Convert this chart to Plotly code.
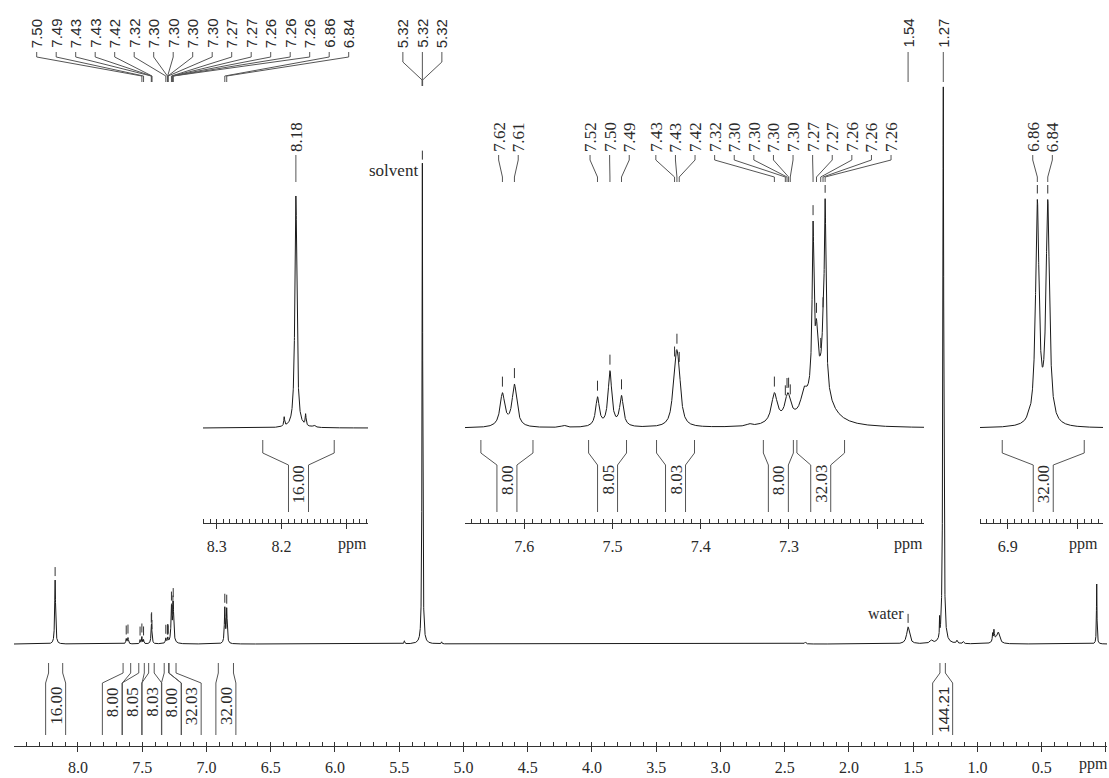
import numpy as np
import plotly.graph_objects as go

W, H = 1109, 778

# ---------------- data ----------------
# main (full-range) spectrum: line positions (ppm), amplitudes, half widths (ppm)
main_ppm = [8.178, 7.6246, 7.611, 7.5169, 7.5028, 7.4897, 7.428, 7.3165, 7.3013, 7.2727, 7.2590, 7.266,
            6.8575, 6.8425, 5.46, 5.320, 5.17, 2.34, 1.54, 1.36, 1.295, 1.266, 1.16, 1.11,
            0.882, 0.872, 0.838, 0.86, 0.072]
main_amp = [64, 5, 6, 4, 7, 4, 20, 5, 5, 31, 35, 7,
            35, 34, 3, 481, 2, 2, 17, 3, 18, 557, 3, 2,
            8, 10, 10, 4, 60]
main_hwhm = [0.004, 0.004, 0.004, 0.003, 0.003, 0.003, 0.004, 0.004, 0.004, 0.004, 0.004, 0.013,
             0.004, 0.004, 0.003, 0.003, 0.003, 0.006, 0.013, 0.012, 0.0015, 0.004, 0.005, 0.005,
             0.003, 0.003, 0.012, 0.02, 0.0025]

# inset 1 (8.18 region)
ins1_ppm = [8.178, 8.196, 8.163, 8.150]
ins1_amp = [232, 9, 11, 2]
ins1_hwhm = [0.0018, 0.0008, 0.0008, 0.002]

# inset 2 (7.25-7.65 region)
ins2_ppm = [7.6246, 7.611, 7.5169, 7.5028, 7.4897, 7.4296, 7.4269, 7.4243, 7.3165, 7.3013, 7.283,
            7.2727, 7.2688, 7.2614, 7.2590, 7.266, 7.555, 7.345]
ins2_amp = [33, 42, 29, 55, 30, 36, 44, 28, 30, 26, 18,
            157, 42, 30, 179, 50, 2, 2]
ins2_hwhm = [0.0032, 0.0032, 0.0025, 0.0025, 0.0025, 0.0028, 0.0028, 0.0028, 0.004, 0.004, 0.004,
             0.0012, 0.0015, 0.0015, 0.0012, 0.013, 0.003, 0.003]

# inset 3 (6.85 region)
ins3_ppm = [6.8575, 6.8425, 6.8704]
ins3_amp = [220, 220, 4]
ins3_hwhm = [0.0030, 0.0030, 0.0015]

# picked peaks (ppm)
pick_ppm = [8.178, 7.6246, 7.611, 7.5169, 7.5028, 7.4897, 7.4296, 7.4269, 7.4243, 7.3165,
            7.3041, 7.3022, 7.3004, 7.2985, 7.2727, 7.2688, 7.2640, 7.2614, 7.2590, 6.8575, 6.8425]
top_label_ppm = pick_ppm[4:]
solvent_label_ppm = [5.322, 5.320, 5.318]
single_label_ppm = [1.54, 1.266]
solvent_ppm = 5.320
water_ppm = 1.54

# integrals: start / end (ppm) and values
int_start = [8.229, 7.649, 7.527, 7.450, 7.329, 7.291, 6.908, 1.292]
int_end = [8.119, 7.590, 7.484, 7.407, 7.295, 7.237, 6.790, 1.250]
int_value = [16.00, 8.00, 8.05, 8.03, 8.00, 32.03, 32.00, 144.21]

main_ticks = [8.5, 8.0, 7.5, 7.0, 6.5, 6.0, 5.5, 5.0, 4.5, 4.0, 3.5, 3.0, 2.5, 2.0, 1.5, 1.0, 0.5, 0.0]
ins1_ticks = [8.3, 8.2, 8.1]
ins2_ticks = [7.6, 7.5, 7.4, 7.3, 7.2]
ins3_ticks = [6.9, 6.8]

# ---------------- layout geometry (pixels) ----------------
AX = {
    'x': dict(px0=14, px1=1107, r0=8.498, r1=-0.008, y='y'),
    'x2': dict(px0=203, px1=368, r0=8.321, r1=8.067, y='y2'),
    'x3': dict(px0=465, px1=924, r0=7.667, r1=7.147, y='y3'),
    'x4': dict(px0=980, px1=1103, r0=6.940, r1=6.763, y='y4'),
}
MAIN_Y = dict(bot=746, top=80, base=644)
INS_Y = dict(bot=523, top=100, base=428)

TXT = '#2a2a2a'
LINE = '#555555'
SERIF = 'Liberation Serif'
SANS = 'Liberation Sans'


def to_px(ax, v):
    a = AX[ax]
    return a['px0'] + (v - a['r0']) / (a['r1'] - a['r0']) * (a['px1'] - a['px0'])


def to_ppm(ax, p):
    a = AX[ax]
    return a['r0'] + (p - a['px0']) / (a['px1'] - a['px0']) * (a['r1'] - a['r0'])


def py(p):
    return 1 - p / H


def lsum(x, ppm, amp, w):
    x = np.asarray(x)[:, None]
    p = np.asarray(ppm)[None, :]
    a = np.asarray(amp)[None, :]
    ww = np.asarray(w)[None, :]
    return (a * ww ** 2 / ((x - p) ** 2 + ww ** 2)).sum(axis=1)


def spread(centers, gap):
    clusters = [[c] for c in centers]

    def pos(cl):
        m = float(np.mean(cl))
        n = len(cl)
        return [m + (i - (n - 1) / 2) * gap for i in range(n)]

    changed = True
    while changed:
        changed = False
        for i in range(len(clusters) - 1):
            if pos(clusters[i + 1])[0] - pos(clusters[i])[-1] < gap - 1e-9:
                clusters[i] = clusters[i] + clusters[i + 1]
                del clusters[i + 1]
                changed = True
                break
    out = []
    for cl in clusters:
        out += pos(cl)
    return out


fig = go.Figure()
shapes = []
annotations = []

spectra = [
    ('x', main_ppm, main_amp, main_hwhm, 30000),
    ('x2', ins1_ppm, ins1_amp, ins1_hwhm, 4000),
    ('x3', ins2_ppm, ins2_amp, ins2_hwhm, 8000),
    ('x4', ins3_ppm, ins3_amp, ins3_hwhm, 4000),
]
curves = {}
for ax, pp, aa, ww, n in spectra:
    xs = np.linspace(AX[ax]['r0'], AX[ax]['r1'], n)
    ys = lsum(xs, pp, aa, ww)
    curves[ax] = (xs[::-1], ys[::-1])
    fig.add_trace(go.Scatter(x=xs, y=ys, mode='lines', xaxis=ax, yaxis=AX[ax]['y'],
                             line=dict(color='#1a1a1a', width=1), hoverinfo='skip'))


def val(ax, p):
    xs, ys = curves[ax]
    return float(np.interp(p, xs, ys))


# ---------- peak markers ----------
def add_markers(ax, plist, gap, length, cap=None, minlen=0):
    mx, my = [], []
    for p in plist:
        a = AX[ax]
        if not (min(a['r0'], a['r1']) < p < max(a['r0'], a['r1'])):
            continue
        v = val(ax, p)
        y0 = v + gap
        y1 = v + gap + length
        if cap is not None:
            y1 = min(y1, cap)
        if y1 - y0 < minlen:
            continue
        mx += [p, p, None]
        my += [y0, y1, None]
    fig.add_trace(go.Scatter(x=mx, y=my, mode='lines', xaxis=ax, yaxis=AX[ax]['y'],
                             line=dict(color='#333333', width=1), hoverinfo='skip'))


add_markers('x', pick_ppm + [solvent_ppm, water_ppm], 4, 9)
for ax in ['x2', 'x3', 'x4']:
    add_markers(ax, pick_ppm, 6, 10, cap=INS_Y['base'] - 185, minlen=6)


# ---------- peak labels with leader lines ----------
def label_group(ax, plist, gap, ytext, ys, font, shift=0.0):
    peaks_px = [to_px(ax, p) for p in plist]
    lab_px = [q + shift for q in spread(peaks_px, gap)]
    for p, ppx, lpx in zip(plist, peaks_px, lab_px):
        annotations.append(dict(x=to_ppm(ax, lpx), y=py(ytext), xref=ax, yref='paper',
                                text=f"{p:.2f}", textangle=-90, showarrow=False,
                                xanchor='center', yanchor='bottom', borderpad=0,
                                font=font))
        lx = to_ppm(ax, lpx)
        path = (f"M {lx},{py(ys[0])} L {lx},{py(ys[1])} "
                f"L {p},{py(ys[2])} L {p},{py(ys[3])}")
        shapes.append(dict(type='path', path=path, xref=ax, yref='paper',
                           line=dict(color=LINE, width=1)))


main_font = dict(family=SANS, size=15, color=TXT)
ins_font = dict(family=SERIF, size=17, color=TXT)
main_lead = (52, 57, 76, 82)
ins_lead = (155, 160, 177, 182)

top_px = [to_px('x', p) for p in top_label_ppm]
label_group('x', top_label_ppm, 19.5, 49, main_lead, main_font,
            shift=192.7 - float(np.mean(top_px)))
label_group('x', solvent_label_ppm, 19.5, 49, (52, 62, 80, 86), main_font)
label_group('x', single_label_ppm, 19.5, 49, main_lead, main_font)

for ax in ['x2', 'x3', 'x4']:
    a = AX[ax]
    inside = [p for p in pick_ppm if min(a['r0'], a['r1']) < p < max(a['r0'], a['r1'])]
    label_group(ax, inside, 19.6, 153, ins_lead, ins_font)

# solvent / water notes
annotations.append(dict(x=to_ppm('x', 419), y=py(170), xref='x', yref='paper', text='solvent',
                        showarrow=False, xanchor='right', yanchor='middle', borderpad=0,
                        font=dict(family=SERIF, size=17, color=TXT)))
annotations.append(dict(x=to_ppm('x', 905), y=py(613), xref='x', yref='paper', text='water',
                        showarrow=False, xanchor='right', yanchor='middle', borderpad=0,
                        font=dict(family=SERIF, size=16, color=TXT)))


# ---------- integrals ----------
def integrals(ax, geom, text_top):
    a = AX[ax]
    idx = [i for i in range(len(int_value))
           if min(a['r0'], a['r1']) < (int_start[i] + int_end[i]) / 2 < max(a['r0'], a['r1'])]
    centers = [(to_px(ax, int_start[i]) + to_px(ax, int_end[i])) / 2 for i in idx]
    slots = spread(centers, 19.7)
    top, knee, diag, bot = geom
    hw = 10
    for i, c in zip(idx, slots):
        xl = int_start[i]
        xr = int_end[i]
        sl = to_ppm(ax, c - hw)
        sr = to_ppm(ax, c + hw)
        path = (f"M {xl},{py(top)} L {xl},{py(knee)} L {sl},{py(diag)} L {sl},{py(bot)} "
                f"M {xr},{py(top)} L {xr},{py(knee)} L {sr},{py(diag)} L {sr},{py(bot)}")
        shapes.append(dict(type='path', path=path, xref=ax, yref='paper',
                           line=dict(color=LINE, width=1)))
        txt = f"{int_value[i]:.2f}"
        big = int_value[i] >= 100
        font = dict(family=SANS if big else SERIF, size=15 if big else 17, color=TXT)
        annotations.append(dict(x=to_ppm(ax, c), y=py(text_top), xref=ax, yref='paper',
                                text=txt, textangle=-90, showarrow=False, xanchor='center',
                                yanchor='top', borderpad=0, font=font))


integrals('x', (663, 673, 683, 735), 686)
for ax in ['x2', 'x3', 'x4']:
    integrals(ax, (440, 453, 465, 512), 464)


# ---------- axes ----------
def xcfg(ax, ticks, minor, standoff):
    a = AX[ax]
    labels = [f"{t:.1f}" for t in ticks]
    # the first main tick (8.5) sits on the axis end, the last tick is replaced by "ppm"
    if ax == 'x':
        labels[0] = ''
    labels[-1] = ''
    return dict(domain=[a['px0'] / W, a['px1'] / W], range=[a['r0'], a['r1']], anchor=a['y'],
                showgrid=False, zeroline=False, showline=True, linecolor='#333333', linewidth=1,
                tickmode='array', tickvals=ticks, ticktext=labels, ticks='outside',
                ticklen=5, tickwidth=1, tickcolor='#333333', ticklabelstandoff=standoff,
                minor=dict(tickmode='linear', tick0=0, dtick=minor, ticks='inside', ticklen=4,
                           tickwidth=1, tickcolor='#333333', showgrid=False),
                tickfont=dict(family=SERIF, size=16, color=TXT), fixedrange=True)


def ycfg(ax, geom):
    return dict(domain=[py(geom['bot']), py(geom['top'])],
                range=[-(geom['bot'] - geom['base']), geom['base'] - geom['top']],
                anchor=ax, visible=False, fixedrange=True)


# "ppm" unit labels
for ax, pxx, yy in [('x', 1093, 764), ('x2', 352, 544), ('x3', 908, 544), ('x4', 1083, 544)]:
    annotations.append(dict(x=to_ppm(ax, pxx), y=py(yy), xref=ax, yref='paper', text='ppm',
                            showarrow=False, xanchor='center', yanchor='middle', borderpad=0,
                            font=dict(family=SERIF, size=16, color=TXT)))

fig.update_layout(
    width=W, height=H, margin=dict(l=0, r=0, t=0, b=0),
    paper_bgcolor='white', plot_bgcolor='rgba(0,0,0,0)', showlegend=False,
    xaxis=xcfg('x', main_ticks, 0.1, 2),
    xaxis2=xcfg('x2', ins1_ticks, 0.01, 4),
    xaxis3=xcfg('x3', ins2_ticks, 0.01, 4),
    xaxis4=xcfg('x4', ins3_ticks, 0.01, 4),
    yaxis=ycfg('x', MAIN_Y),
    yaxis2=ycfg('x2', INS_Y),
    yaxis3=ycfg('x3', INS_Y),
    yaxis4=ycfg('x4', INS_Y),
    shapes=shapes, annotations=annotations,
)

fig.write_html("out.html")
